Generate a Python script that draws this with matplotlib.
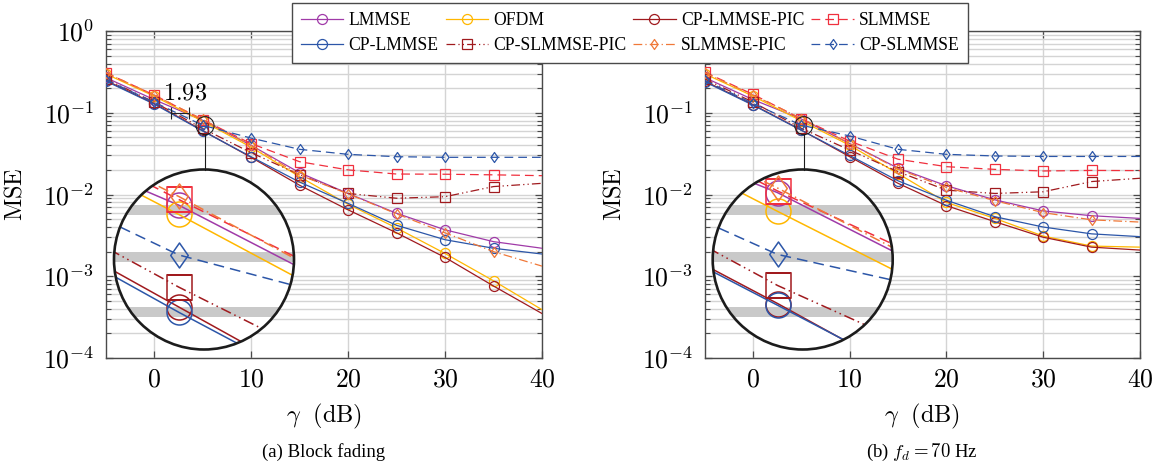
import matplotlib
matplotlib.use("Agg")
import numpy as np
import matplotlib.pyplot as plt
from matplotlib.patches import Circle, Ellipse
from matplotlib.lines import Line2D
from matplotlib.path import Path
from matplotlib.ticker import FixedLocator, FixedFormatter, NullFormatter

plt.rcParams["font.family"] = ["Liberation Serif", "DejaVu Serif"]
plt.rcParams["mathtext.fontset"] = "cm"

W, H, DPI = 1162, 468, 100

# ---------------------------------------------------------------- data
snr_db = [-5, 0, 5, 10, 15, 20, 25, 30, 35, 40]

# (a) block fading
lmmse_block = [0.27, 0.145, 0.081, 0.040, 0.0185, 0.0103, 0.0059, 0.0037, 0.00265, 0.0022]
ofdm_block = [0.30, 0.160, 0.0789, 0.038, 0.0165, 0.0076, 0.0039, 0.0019, 0.00088, 0.00039]
cp_lmmse_pic_block = [0.25, 0.130, 0.0608, 0.0285, 0.0130, 0.0065, 0.0034, 0.0017, 0.00076, 0.00035]
slmmse_block = [0.31, 0.165, 0.0823, 0.042, 0.0252, 0.0200, 0.0178, 0.0177, 0.0174, 0.0170]
cp_lmmse_block = [0.245, 0.128, 0.0599, 0.029, 0.0142, 0.0078, 0.0042, 0.0028, 0.0022, 0.00187]
cp_slmmse_pic_block = [0.26, 0.135, 0.0643, 0.0325, 0.0175, 0.0103, 0.0090, 0.0094, 0.0125, 0.0137]
slmmse_pic_block = [0.31, 0.165, 0.083, 0.040, 0.0173, 0.0102, 0.0058, 0.0034, 0.0020, 0.00133]
cp_slmmse_block = [0.255, 0.135, 0.0704, 0.049, 0.0357, 0.031, 0.029, 0.0285, 0.0285, 0.0285]

# (b) f_d = 70 Hz
lmmse_fd70 = [0.27, 0.145, 0.0839, 0.042, 0.0210, 0.0128, 0.0086, 0.0063, 0.0055, 0.0051]
ofdm_fd70 = [0.30, 0.160, 0.0796, 0.040, 0.0180, 0.0080, 0.0051, 0.0031, 0.00234, 0.00227]
cp_lmmse_pic_fd70 = [0.245, 0.126, 0.0614, 0.029, 0.0137, 0.0073, 0.00465, 0.0030, 0.00227, 0.00209]
slmmse_fd70 = [0.315, 0.168, 0.0843, 0.045, 0.027, 0.0219, 0.0203, 0.0194, 0.0197, 0.0196]
cp_lmmse_fd70 = [0.24, 0.124, 0.0611, 0.030, 0.0147, 0.0085, 0.00535, 0.0040, 0.0033, 0.00305]
cp_slmmse_pic_fd70 = [0.26, 0.135, 0.0646, 0.035, 0.019, 0.0113, 0.0103, 0.0108, 0.0144, 0.0158]
slmmse_pic_fd70 = [0.31, 0.165, 0.085, 0.042, 0.0205, 0.0122, 0.0084, 0.0060, 0.0049, 0.0046]
cp_slmmse_fd70 = [0.25, 0.130, 0.0705, 0.052, 0.0357, 0.031, 0.0296, 0.0292, 0.0292, 0.0292]

series_names = ["LMMSE", "OFDM", "CP-LMMSE-PIC", "SLMMSE",
                "CP-LMMSE", "CP-SLMMSE-PIC", "SLMMSE-PIC", "CP-SLMMSE"]

block_data = [lmmse_block, ofdm_block, cp_lmmse_pic_block, slmmse_block,
              cp_lmmse_block, cp_slmmse_pic_block, slmmse_pic_block, cp_slmmse_block]
fd70_data = [lmmse_fd70, ofdm_fd70, cp_lmmse_pic_fd70, slmmse_fd70,
             cp_lmmse_fd70, cp_slmmse_pic_fd70, slmmse_pic_fd70, cp_slmmse_fd70]

y_tick_values = [1e-4, 1e-3, 1e-2, 1e-1, 1]
y_tick_labels = ["$10^{-4}$", "$10^{-3}$", "$10^{-2}$", "$10^{-1}$", "$10^{0}$"]
x_tick_values = [0, 10, 20, 30, 40]
x_tick_labels = ["$0$", "$10$", "$20$", "$30$", "$40$"]

gap_label = 1.93          # SNR gap (dB) at MSE = 0.1
gap_start = 1.72
gap_level = 0.1

# ---------------------------------------------------------------- styles
diamond = Path([(0, 1), (0.7, 0), (0, -1), (-0.7, 0), (0, 1)], closed=True)

styles = {
    "LMMSE":         dict(color="#a03aa8", ls="-", marker="o"),
    "OFDM":          dict(color="#ffb700", ls="-", marker="o"),
    "CP-LMMSE-PIC":  dict(color="#a01a1e", ls="-", marker="o"),
    "SLMMSE":        dict(color="#f0303e", ls=(0, (7, 4)), marker="s"),
    "CP-LMMSE":      dict(color="#2c56a8", ls="-", marker="o"),
    "CP-SLMMSE-PIC": dict(color="#a01a1e", ls=(0, (7, 2.5, 1, 2.5, 1, 2.5)), marker="s"),
    "SLMMSE-PIC":    dict(color="#f07838", ls=(0, (7, 2.5, 1, 2.5)), marker=diamond),
    "CP-SLMMSE":     dict(color="#2c56a8", ls=(0, (7, 4)), marker=diamond),
}

GRID = "#d4d4d4"
FRAME = "#4a4a4a"


def plot_series(ax, data, lw, ms, mew, clip=None):
    handles = []
    for name, vals in zip(series_names, data):
        st = styles[name]
        ln, = ax.plot(snr_db, vals, color=st["color"], linestyle=st["ls"],
                      linewidth=lw, marker=st["marker"], markersize=ms,
                      markerfacecolor="none", markeredgewidth=mew,
                      markeredgecolor=st["color"],
                      markevery=list(range(len(snr_db) - 1)), label=name,
                      zorder=3)
        if clip is not None:
            ln.set_clip_path(clip)
        handles.append(ln)
    return handles


def setup_axes(ax, y_labels):
    ax.set_yscale("log")
    ax.set_xlim(-5, 40)
    ax.set_ylim(1e-4, 1)
    ax.xaxis.set_major_locator(FixedLocator(x_tick_values))
    ax.xaxis.set_major_formatter(FixedFormatter(x_tick_labels))
    ax.yaxis.set_major_locator(FixedLocator(y_tick_values))
    ax.yaxis.set_major_formatter(FixedFormatter(y_labels))
    minors = [k * 10.0 ** d for d in range(-4, 0) for k in range(2, 10)]
    ax.yaxis.set_minor_locator(FixedLocator(minors))
    ax.yaxis.set_minor_formatter(NullFormatter())
    ax.grid(True, which="major", color=GRID, linewidth=1.0, zorder=0)
    ax.grid(True, which="minor", axis="y", color=GRID, linewidth=1.0, zorder=0)
    ax.set_axisbelow(True)
    ax.tick_params(which="both", direction="in", top=True, right=True,
                   color=FRAME, labelsize=18.5)
    ax.tick_params(which="major", length=5, width=0.9, pad=8)
    ax.tick_params(which="minor", length=3.5, width=0.8)
    for sp in ax.spines.values():
        sp.set_color(FRAME)
        sp.set_linewidth(1.0)
    ax.set_ylabel(r"$\mathrm{MSE}$", fontsize=17.5)
    ax.set_xlabel(r"$\gamma\ \ (\mathrm{dB})$", fontsize=17.5)
    ax.yaxis.set_label_coords(-0.182, 0.5)
    ax.xaxis.set_label_coords(0.5, -0.135)


def add_lens(fig, ax, data, lens_px, r_px, center, mag):
    bb = ax.get_position()
    pxx = bb.width * W / 45.0
    pxy = bb.height * H / 4.0
    cx, cy = lens_px
    lax = fig.add_axes([(cx - r_px) / W, 1 - (cy + r_px) / H,
                        2 * r_px / W, 2 * r_px / H])
    lax.set_yscale("log")
    xc, yc = center
    hx = r_px / (mag * pxx)
    hy = r_px / (mag * pxy)
    lax.set_xlim(xc - hx, xc + hx)
    lax.set_ylim(10 ** (yc - hy), 10 ** (yc + hy))
    lax.set_axis_off()
    clip = Circle((0.5, 0.5), 0.5, transform=lax.transAxes)
    lax.add_patch(Circle((0.5, 0.5), 0.5, transform=lax.transAxes,
                         facecolor="white", edgecolor="none", zorder=0))
    lo, hi = 10 ** (yc - hy), 10 ** (yc + hy)
    for d in range(-4, 1):
        for k in range(1, 10):
            v = k * 10.0 ** d
            if lo < v < hi:
                hl = lax.axhline(v, color="#c9c9c9", linewidth=7.2, zorder=1)
                hl.set_clip_path(clip)
    for xv in x_tick_values:
        if xc - hx < xv < xc + hx:
            vl = lax.axvline(xv, color="#c9c9c9", linewidth=7.2, zorder=1)
            vl.set_clip_path(clip)
    plot_series(lax, data, lw=1.1, ms=18, mew=1.1, clip=clip)
    lax.add_patch(Circle((0.5, 0.5), 0.5, transform=lax.transAxes,
                         fill=False, edgecolor="#1c1c1c", linewidth=1.9,
                         zorder=10, clip_on=False))
    # spy marker on the main axes and the connector
    disp = ax.transData.transform((xc, 10 ** yc))
    fx, fy = fig.transFigure.inverted().transform(disp)
    rs = r_px / mag
    fig.add_artist(Ellipse((fx, fy), 2 * rs / W, 2 * rs / H,
                           transform=fig.transFigure, fill=False,
                           edgecolor="#1c1c1c", linewidth=0.8, zorder=4))
    fig.add_artist(Line2D([fx, fx], [fy - rs / H, 1 - (cy - r_px) / H],
                          transform=fig.transFigure, color="#1c1c1c",
                          linewidth=0.8, zorder=4))


fig = plt.figure(figsize=(W / DPI, H / DPI), dpi=DPI)
ax_a = fig.add_axes([105.5 / W, 1 - 358 / H, 436.5 / W, 327 / H])
ax_b = fig.add_axes([704.5 / W, 1 - 358 / H, 435.5 / W, 327 / H])

setup_axes(ax_a, y_tick_labels)
# the top label of panel (b) sits under the legend box
setup_axes(ax_b, y_tick_labels[:-1] + [""])
handles = plot_series(ax_a, block_data, lw=0.9, ms=7.2, mew=0.9)
plot_series(ax_b, fd70_data, lw=0.9, ms=7.2, mew=0.9)

# SNR gap annotation
ax_a.plot([gap_start, gap_start + gap_label], [gap_level, gap_level],
          color="#222222", linewidth=0.8, marker="|", markersize=8,
          markeredgewidth=0.8, zorder=5)
ax_a.text(gap_start + gap_label / 2 + 0.5, 0.17, "$%.2f$" % gap_label,
          fontsize=17.5, ha="center", va="center", zorder=6)

lens_center = (5.26, -1.158)
add_lens(fig, ax_a, block_data, (204, 259.5), 90, lens_center, 10)
add_lens(fig, ax_b, fd70_data, (802.7, 259.5), 90, lens_center, 10)

fig.text(324 / W, 1 - 452 / H, "(a) Block fading", ha="center", va="center",
         fontsize=13.5)
fig.text(922 / W, 1 - 452 / H, "(b) $f_d = 70$ Hz", ha="center", va="center",
         fontsize=13.5)

# legend filled column by column: reorder so rows read like the series list
order = [0, 4, 1, 5, 2, 6, 3, 7]
leg = fig.legend([handles[i] for i in order], [series_names[i] for i in order],
                 loc="upper left", bbox_to_anchor=(292 / W, 1 - 3 / H),
                 ncol=4, fontsize=12.7, frameon=True, fancybox=False,
                 edgecolor=FRAME, framealpha=1.0, borderpad=0.5,
                 handlelength=2.4, handletextpad=0.3, columnspacing=0.4,
                 labelspacing=0.45, borderaxespad=0)
leg.get_frame().set_linewidth(1.0)

fig.savefig("out.png", dpi=DPI)
